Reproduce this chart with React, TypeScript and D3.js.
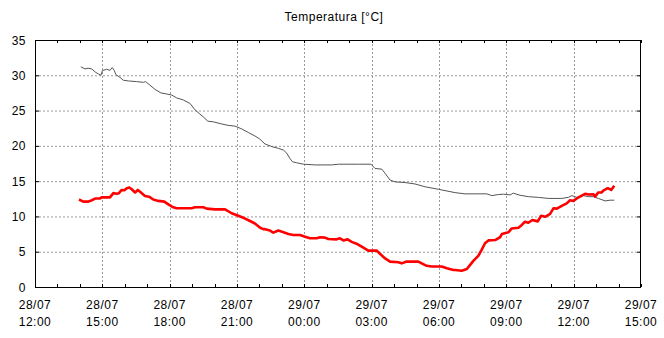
import React from "react";
import * as d3 from "d3";

// hours since 28/07 12:00
const grayHours = [2.04, 2.23, 2.37, 2.53, 2.71, 2.82, 2.94, 3.0, 3.19, 3.34, 3.44, 3.53, 3.6, 3.79, 3.93, 4.16, 4.53, 4.83, 4.93, 5.12, 5.35, 5.61, 5.87, 6.09, 6.31, 6.61, 6.91, 7.13, 7.35, 7.5, 7.7, 7.95, 8.32, 8.61, 8.91, 9.21, 9.5, 9.8, 10.0, 10.25, 10.55, 10.84, 11.07, 11.22, 11.36, 11.47, 11.66, 11.96, 12.48, 13.22, 13.52, 14.41, 14.97, 15.15, 15.45, 15.6, 15.82, 16.04, 16.49, 16.93, 17.38, 17.97, 18.72, 19.16, 19.6, 20.13, 20.35, 20.64, 20.87, 21.17, 21.31, 21.61, 21.98, 22.43, 22.87, 23.47, 23.76, 23.92, 24.14, 24.43, 24.66, 24.88, 25.1, 25.4, 25.62, 25.81];
const grayValues = [31.2, 30.9, 31.0, 30.9, 30.4, 30.2, 30.0, 30.65, 30.85, 30.7, 31.1, 30.7, 30.1, 29.7, 29.3, 29.2, 29.1, 29.0, 29.1, 28.6, 28.0, 27.5, 27.35, 27.2, 26.8, 26.5, 26.0, 25.1, 24.5, 24.1, 23.5, 23.4, 23.1, 22.9, 22.8, 22.4, 21.9, 21.4, 21.0, 20.26, 19.9, 19.65, 19.4, 18.95, 18.2, 17.75, 17.6, 17.4, 17.3, 17.3, 17.4, 17.4, 17.4, 16.8, 16.7, 16.1, 15.15, 14.9, 14.8, 14.6, 14.2, 13.85, 13.37, 13.2, 13.2, 13.2, 12.95, 13.1, 13.15, 13.05, 13.3, 13.0, 12.8, 12.7, 12.55, 12.55, 12.7, 12.95, 12.7, 12.95, 12.8, 12.8, 12.55, 12.2, 12.3, 12.3];

const redHours = [1.96, 2.15, 2.38, 2.53, 2.7, 2.9, 2.97, 3.34, 3.49, 3.64, 3.74, 3.86, 3.98, 4.09, 4.2, 4.31, 4.46, 4.58, 4.68, 4.9, 5.08, 5.27, 5.5, 5.76, 5.94, 6.16, 6.31, 6.98, 7.13, 7.5, 7.65, 8.02, 8.47, 8.76, 9.06, 9.36, 9.58, 9.8, 10.03, 10.17, 10.25, 10.47, 10.62, 10.84, 11.07, 11.29, 11.51, 11.81, 12.03, 12.25, 12.55, 12.7, 12.92, 13.07, 13.44, 13.59, 13.74, 13.93, 14.11, 14.38, 14.63, 14.85, 15.23, 15.37, 15.6, 15.82, 16.19, 16.34, 16.56, 17.08, 17.23, 17.45, 17.68, 18.12, 18.35, 18.64, 18.72, 19.01, 19.24, 19.38, 19.53, 19.75, 19.9, 20.05, 20.2, 20.5, 20.72, 20.8, 21.09, 21.24, 21.54, 21.69, 21.83, 21.98, 22.16, 22.4, 22.55, 22.73, 22.95, 23.1, 23.25, 23.47, 23.69, 23.84, 23.99, 24.14, 24.36, 24.51, 24.66, 24.88, 24.95, 25.1, 25.25, 25.32, 25.52, 25.67, 25.81];
const redValues = [12.4, 12.1, 12.1, 12.3, 12.55, 12.55, 12.7, 12.7, 13.3, 13.2, 13.3, 13.75, 13.7, 14.0, 14.1, 13.85, 13.4, 13.75, 13.5, 12.9, 12.8, 12.4, 12.2, 12.1, 11.7, 11.3, 11.15, 11.15, 11.3, 11.3, 11.1, 11.0, 11.0, 10.45, 10.1, 9.7, 9.35, 9.0, 8.4, 8.2, 8.2, 8.0, 7.7, 8.0, 7.75, 7.5, 7.37, 7.37, 7.13, 6.9, 6.9, 7.04, 7.0, 6.8, 6.75, 6.9, 6.6, 6.75, 6.4, 6.05, 5.57, 5.15, 5.15, 4.7, 4.05, 3.6, 3.5, 3.35, 3.6, 3.6, 3.35, 3.0, 2.9, 2.9, 2.65, 2.4, 2.4, 2.3, 2.55, 3.1, 3.7, 4.4, 5.25, 6.2, 6.6, 6.65, 7.05, 7.5, 7.75, 8.3, 8.4, 8.8, 9.25, 9.1, 9.5, 9.3, 10.1, 9.95, 10.35, 11.15, 11.1, 11.5, 11.85, 12.3, 12.2, 12.55, 12.95, 13.2, 13.1, 13.15, 12.8, 13.4, 13.4, 13.65, 14.0, 13.75, 14.35];

const yTicks = [0, 5, 10, 15, 20, 25, 30, 35];
const title = "Temperatura [°C]";

const W = 664, H = 338;
const M = { left: 35, right: 641, top: 40, bottom: 287 };
const start = new Date(2024, 6, 28, 12, 0);
const end = new Date(2024, 6, 29, 15, 0);
const toDate = (h: number) => new Date(start.getTime() + h * 3600000);

export default function App() {
  React.useEffect(() => {
    document.body.style.margin = "0";
  }, []);
  const x = d3.scaleTime().domain([start, end]).range([M.left, M.right]);
  const y = d3.scaleLinear().domain([0, 35]).range([M.bottom, M.top]);
  const majors = d3.timeHour.every(3)!.range(start, new Date(end.getTime() + 1));
  const minors = d3.timeHour.every(1)!.range(start, new Date(end.getTime() + 1));
  const fd = d3.timeFormat("%d/%m");
  const ft = d3.timeFormat("%H:%M");
  const line = d3.line<[number, number]>().x((d) => x(toDate(d[0]))).y((d) => y(d[1]));
  const gray = grayHours.map((h, i) => [h, grayValues[i]] as [number, number]);
  const red = redHours.map((h, i) => [h, redValues[i]] as [number, number]);
  const font = "'Liberation Sans', Arial, sans-serif";
  return (
    <svg width={W} height={H} style={{ display: "block", background: "#fff" }} fontFamily={font} fontSize={12} letterSpacing={0.5}>
      <rect x={0} y={0} width={W} height={H} fill="#fff" />
      <text x={334} y={21} textAnchor="middle" fontSize={12}>{title}</text>
      {/* gridlines */}
      {yTicks.slice(1, -1).map((t) => (
        <line key={"gy" + t} x1={M.left} x2={M.right} y1={y(t) + 0.5} y2={y(t) + 0.5} stroke="#999" strokeDasharray="2,2" />
      ))}
      {majors.slice(1, -1).map((d, i) => (
        <line key={"gx" + i} x1={Math.round(x(d)) + 0.5} x2={Math.round(x(d)) + 0.5} y1={M.top} y2={M.bottom} stroke="#999" strokeDasharray="2,2" />
      ))}
      {/* minor ticks */}
      {minors.map((d, i) => (
        <g key={"mt" + i}>
          <line x1={Math.round(x(d)) + 0.5} x2={Math.round(x(d)) + 0.5} y1={M.bottom} y2={M.bottom - 3} stroke="#000" />
          <line x1={Math.round(x(d)) + 0.5} x2={Math.round(x(d)) + 0.5} y1={M.top} y2={M.top + 3} stroke="#000" />
        </g>
      ))}
      {yTicks.map((t) => (
        <g key={"yt" + t}>
          <line x1={M.left} x2={M.left + 4} y1={y(t) + 0.5} y2={y(t) + 0.5} stroke="#000" />
          <line x1={M.right - 4} x2={M.right} y1={y(t) + 0.5} y2={y(t) + 0.5} stroke="#000" />
        </g>
      ))}
      {/* series */}
      <path d={line(gray) || ""} fill="none" stroke="#555" strokeWidth={1} />
      <path d={line(red) || ""} fill="none" stroke="#ff0000" strokeWidth={2.6} strokeLinejoin="round" />
      {/* frame */}
      <rect x={M.left + 0.5} y={M.top + 0.5} width={M.right - M.left - 1} height={M.bottom - M.top} fill="none" stroke="#000" />
      {/* y labels */}
      {yTicks.map((t) => (
        <text key={"yl" + t} x={26} y={y(t) + 4.5} textAnchor="end">{t}</text>
      ))}
      {/* x labels */}
      {majors.map((d, i) => (
        <g key={"xl" + i}>
          <text x={x(d)} y={309} textAnchor="middle">{fd(d)}</text>
          <text x={x(d)} y={326} textAnchor="middle">{ft(d)}</text>
        </g>
      ))}
    </svg>
  );
}
